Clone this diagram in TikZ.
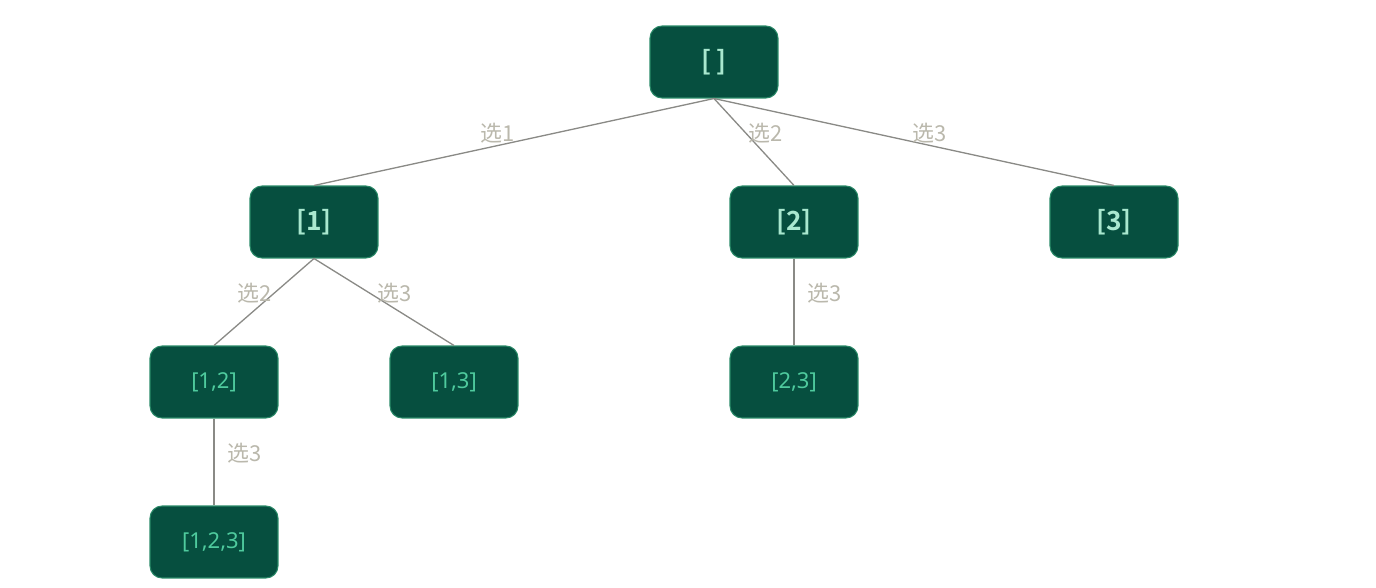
\documentclass[tikz,border=0pt]{standalone}
\usepackage{fontspec}
\usepackage{xcolor}
\usetikzlibrary{positioning}
\setmainfont{Noto Sans}
\newfontfamily\cjk{Noto Sans CJK SC}
\newfontfamily\topfont{Noto Sans CJK SC Bold}
\definecolor{boxfill}{HTML}{064F3F}
\definecolor{boxline}{HTML}{2A8A68}
\definecolor{toptext}{HTML}{A9E8CF}
\definecolor{subtext}{HTML}{4FCB9E}
\definecolor{edgegray}{HTML}{8A8A86}
\definecolor{pickgray}{HTML}{BAB8AC}

\begin{document}
\begin{tikzpicture}[
    x=0.02cm, y=-0.02cm,
    state/.style={draw=boxline, line width=0.6pt, fill=boxfill, rounded corners=0.24cm,
        minimum width=2.56cm, minimum height=1.44cm, inner sep=0pt, align=center},
    toplevel/.style={state, text=toptext, font=\topfont\fontsize{15}{16}\selectfont},
    sublevel/.style={state, text=subtext, font=\fontsize{12.5}{14}\selectfont},
    link/.style={draw=edgegray, line width=0.75pt},
    pick/.style={text=pickgray, font=\cjk\fontsize{12.5}{14}\selectfont, inner sep=1pt}
]
\useasboundingbox (0,0) rectangle (1376,588);

\node[toplevel] (root) at (714,62) {[ ]};
\node[toplevel] (one) at (314,222) {[1]};
\node[toplevel] (two) at (794,222) {[2]};
\node[toplevel] (three) at (1114,222) {[3]};
\node[sublevel] (onetwo) at (214,382) {[1,2]};
\node[sublevel] (onethree) at (454,382) {[1,3]};
\node[sublevel] (twothree) at (794,382) {[2,3]};
\node[sublevel] (all) at (214,542) {[1,2,3]};

\draw[link] (root.south) -- node[pick, pos=0.54, anchor=south] {选1} (one.north);
\draw[link] (root.south) -- node[pick, pos=0.4, anchor=west] {选2} (two.north);
\draw[link] (root.south) -- node[pick, pos=0.54, anchor=south] {选3} (three.north);
\draw[link] (one.south) -- node[pick, pos=0.4, anchor=east] {选2} (onetwo.north);
\draw[link] (one.south) -- node[pick, pos=0.4, anchor=west, xshift=3pt] {选3} (onethree.north);
\draw[link] (two.south) -- node[pick, pos=0.4, anchor=west, xshift=6.4pt] {选3} (twothree.north);
\draw[link] (onetwo.south) -- node[pick, pos=0.4, anchor=west, xshift=6.4pt] {选3} (all.north);

\end{tikzpicture}
\end{document}
